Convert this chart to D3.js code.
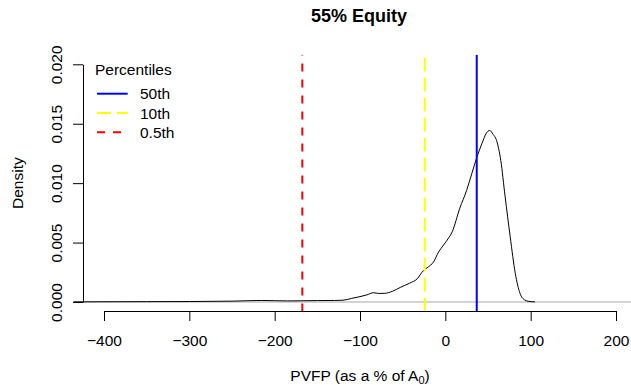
<!DOCTYPE html>
<html lang="en">
<head>
    <meta charset="UTF-8">
    <title>55% Equity</title>
    <script src="https://d3js.org/d3.v7.min.js"></script>
    <style>
        body {
            margin: 0;
            background: #ffffff;
        }
        svg text {
            font-family: "Liberation Sans", Arial, Helvetica, sans-serif;
            fill: #000;
        }
        .axis text {
            font-size: 15.5px;
        }
        .axis path, .axis line {
            stroke: #000;
            stroke-width: 1;
        }
    </style>
</head>
<body>
    <div id="chart"></div>

    <script>
        // density curve
        let pvfp = [-436, -400, -350, -300, -250, -215, -200, -185, -170, -150, -130, -120, -110, -100, -92, -84, -78, -71, -62, -53,
                    -42, -33, -26, -20, -14, -8, -2, 3, 8, 17, 25, 31, 37, 43, 48, 52, 56, 60, 65, 70,
                    76, 82, 87.5, 93, 98, 105];
        let density = [0.00001, 0.00002, 0.00003, 0.00004, 0.00007, 0.00013, 0.00011, 0.00009, 0.0001, 0.00012, 0.00013, 0.00015, 0.0003, 0.00045, 0.0006, 0.00078, 0.00072, 0.00073, 0.0009, 0.00122,
                       0.00158, 0.00195, 0.00262, 0.00295, 0.00335, 0.0042, 0.0048, 0.0053, 0.0059, 0.0079, 0.0094, 0.0108, 0.0122, 0.01335, 0.0142, 0.01443, 0.0141, 0.0136, 0.0119, 0.0089,
                       0.0055, 0.0024, 0.00073, 0.00017, 0.00005, 0.00001];

        // percentile lines
        let pctLabels = ["50th", "10th", "0.5th"];
        let pctValues = [36.8, -24.1, -167.6];
        let pctColors = ["#0000ff", "#ffff00", "#ff0000"];
        let pctDash = [null, "14,6", "8,8"];

        let xTicks = [-400, -300, -200, -100, 0, 100, 200];
        let yTicks = [0, 0.005, 0.010, 0.015, 0.020];

        let width = 631, height = 385;

        let svg = d3.select("#chart").append("svg")
            .attr("width", width)
            .attr("height", height);

        let x = d3.scaleLinear().domain([-400, 200]).range([104, 616]);
        let y = d3.scaleLinear().domain([0, 0.02]).range([302, 64.3]);

        // plot region (R style 4% padding)
        let plotLeft = x(-436), plotRight = width;
        let plotTop = y(0.0208), plotBottom = y(-0.0008);

        svg.append("defs").append("clipPath")
            .attr("id", "plotClip")
            .append("rect")
            .attr("x", plotLeft).attr("y", plotTop)
            .attr("width", plotRight - plotLeft).attr("height", plotBottom - plotTop);

        let plot = svg.append("g").attr("clip-path", "url(#plotClip)");

        // zero line
        plot.append("line")
            .attr("x1", plotLeft).attr("x2", plotRight)
            .attr("y1", y(0)).attr("y2", y(0))
            .attr("stroke", "#c4c4c4")
            .attr("stroke-width", 1.5);

        let curve = pvfp.map((v, i) => ({ v: v, d: density[i] }));

        plot.append("path")
            .datum(curve)
            .attr("fill", "none")
            .attr("stroke", "#000")
            .attr("stroke-width", 1)
            .attr("d", d3.line()
                .x(d => x(d.v))
                .y(d => y(d.d))
                .curve(d3.curveMonotoneX));

        // vertical percentile lines, drawn bottom to top like abline
        pctValues.forEach((v, i) => {
            plot.append("line")
                .attr("x1", x(v)).attr("x2", x(v))
                .attr("y1", plotBottom).attr("y2", plotTop)
                .attr("stroke", pctColors[i])
                .attr("stroke-width", 2)
                .attr("stroke-dasharray", pctDash[i]);
        });

        // axes
        svg.append("g")
            .attr("class", "axis")
            .attr("transform", "translate(0," + 311 + ")")
            .call(d3.axisBottom(x).tickValues(xTicks).tickSize(10).tickSizeOuter(0).tickFormat(d3.format("d")))
            .call(g => g.selectAll("text").attr("y", 35).attr("dy", null));

        svg.append("g")
            .attr("class", "axis")
            .attr("transform", "translate(83,0)")
            .call(d3.axisLeft(y).tickValues(yTicks).tickSize(10).tickSizeOuter(0).tickFormat(d3.format(".3f")))
            .call(g => g.selectAll("text")
                .attr("x", 0)
                .attr("y", -21)
                .attr("dy", null)
                .attr("transform", "rotate(-90)")
                .attr("text-anchor", "middle"));

        // title and axis labels
        svg.append("text")
            .attr("x", 359)
            .attr("y", 22)
            .attr("text-anchor", "middle")
            .style("font-size", "18px")
            .style("font-weight", "bold")
            .text("55% Equity");

        let xlab = svg.append("text")
            .attr("x", 360)
            .attr("y", 380.5)
            .attr("text-anchor", "middle")
            .style("font-size", "15.5px");
        xlab.append("tspan").text("PVFP (as a % of A");
        xlab.append("tspan").attr("dy", 3.5).style("font-size", "11px").text("0");
        xlab.append("tspan").attr("dy", -3.5).text(")");

        svg.append("text")
            .attr("transform", "translate(22.5," + ((plotTop + plotBottom) / 2) + ") rotate(-90)")
            .attr("text-anchor", "middle")
            .style("font-size", "15.5px")
            .text("Density");

        // legend
        let legend = svg.append("g");
        legend.append("text")
            .attr("x", 95)
            .attr("y", 75)
            .style("font-size", "15.5px")
            .text("Percentiles");

        pctLabels.forEach((lab, i) => {
            let ly = 93.7 + i * 19.3;
            legend.append("line")
                .attr("x1", 97).attr("x2", 127.7)
                .attr("y1", ly).attr("y2", ly)
                .attr("stroke", pctColors[i])
                .attr("stroke-width", 2)
                .attr("stroke-dasharray", pctDash[i]);
            legend.append("text")
                .attr("x", 140)
                .attr("y", ly + 5.6)
                .style("font-size", "15.5px")
                .text(lab);
        });
    </script>
</body>
</html>
